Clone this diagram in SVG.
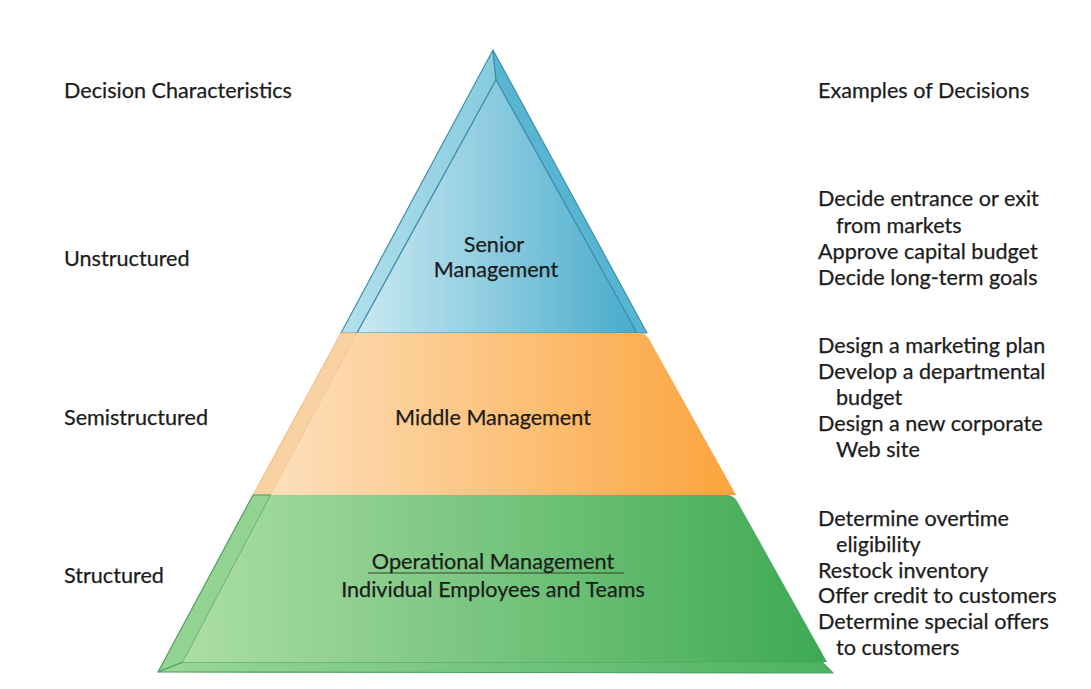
<svg xmlns="http://www.w3.org/2000/svg" width="1091" height="689" viewBox="0 0 1091 689">
  <style>
    .t { font-family: Lato, "Open Sans", "Liberation Sans", sans-serif; font-size: 21.6px; fill: #1c1c1c; stroke: #1c1c1c; stroke-width: 0.25px; }
    .c { text-anchor: middle; }
    .bl { stroke: #3d8fb0; stroke-width: 1.2; stroke-linejoin: round; }
    .or { stroke: #f2b877; stroke-width: 1; stroke-linejoin: round; }
    .gr { stroke: #4f9f60; stroke-width: 1.2; stroke-linejoin: round; }
  </style>
  <defs>
    <linearGradient id="gBlue" x1="357" y1="0" x2="647" y2="0" gradientUnits="userSpaceOnUse">
      <stop offset="0" stop-color="#cbe9f2"/>
      <stop offset="1" stop-color="#44a9cb"/>
    </linearGradient>
    <linearGradient id="gBlueL" x1="341" y1="0" x2="496" y2="0" gradientUnits="userSpaceOnUse">
      <stop offset="0" stop-color="#b4e0ec"/>
      <stop offset="1" stop-color="#86cbdf"/>
    </linearGradient>
    <linearGradient id="gOrange" x1="271" y1="0" x2="736" y2="0" gradientUnits="userSpaceOnUse">
      <stop offset="0" stop-color="#fde0bd"/>
      <stop offset="1" stop-color="#fba43c"/>
    </linearGradient>
    <linearGradient id="gGreen" x1="183" y1="0" x2="827" y2="0" gradientUnits="userSpaceOnUse">
      <stop offset="0" stop-color="#acdea5"/>
      <stop offset="1" stop-color="#3ea954"/>
    </linearGradient>
    <linearGradient id="gGreenS" x1="158" y1="0" x2="833" y2="0" gradientUnits="userSpaceOnUse">
      <stop offset="0" stop-color="#9ad69a"/>
      <stop offset="1" stop-color="#4db362"/>
    </linearGradient>
  </defs>

  <rect width="1091" height="689" fill="#ffffff"/>

  <g id="tier-senior">
    <polygon points="493,50 341,333 357,333 496,80" fill="url(#gBlueL)" class="bl"/>
    <polygon points="493,50 647,333 637,333 496,80" fill="#58b5d2" class="bl"/>
    <polygon points="496,80 357,333 637,333" fill="url(#gBlue)" class="bl"/>
    <text class="t c" x="494" y="252">Senior</text>
    <text class="t c" x="496" y="277">Management</text>
  </g>

  <g id="tier-middle">
    <polygon points="341,333 357,333 271,495 253,495" fill="#f9d2a3" class="or"/>
    <path d="M357,333 L640,333 Q646,334 649,339 L736,495 L271,495 Z" fill="url(#gOrange)"/>
    <text class="t c" x="493" y="425">Middle Management</text>
  </g>

  <g id="tier-operational">
    <path d="M253,495 L271,495 L183,662 L158,672 Z" fill="#93d392" class="gr"/>
    <path d="M158,672 L183,662 L822,662 L833,673 Z" fill="url(#gGreenS)" class="gr"/>
    <path d="M271,495 L728,495 Q734,496 737,501 L827,662 L183,662 Z" fill="url(#gGreen)"/>
    <line x1="368" y1="573" x2="624" y2="573" stroke="#2a4a2a" stroke-width="1.2"/>
    <text class="t c" x="493" y="569">Operational Management</text>
    <text class="t c" x="493" y="597">Individual Employees and Teams</text>
  </g>

  <g id="characteristics">
    <text class="t" x="64" y="98">Decision Characteristics</text>
    <text class="t" x="64" y="266">Unstructured</text>
    <text class="t" x="64" y="425">Semistructured</text>
    <text class="t" x="64" y="583">Structured</text>
  </g>

  <g id="examples">
    <text class="t" x="818" y="98">Examples of Decisions</text>
    <text class="t" x="818" y="206">Decide entrance or exit</text>
    <text class="t" x="836" y="233">from markets</text>
    <text class="t" x="818" y="259">Approve capital budget</text>
    <text class="t" x="818" y="285">Decide long-term goals</text>

    <text class="t" x="818" y="353">Design a marketing plan</text>
    <text class="t" x="818" y="379">Develop a departmental</text>
    <text class="t" x="836" y="405">budget</text>
    <text class="t" x="818" y="431">Design a new corporate</text>
    <text class="t" x="836" y="457">Web site</text>

    <text class="t" x="818" y="526">Determine overtime</text>
    <text class="t" x="836" y="552">eligibility</text>
    <text class="t" x="818" y="578">Restock inventory</text>
    <text class="t" x="818" y="603">Offer credit to customers</text>
    <text class="t" x="818" y="629">Determine special offers</text>
    <text class="t" x="836" y="655">to customers</text>
  </g>

  <g id="connectors"/>
</svg>
